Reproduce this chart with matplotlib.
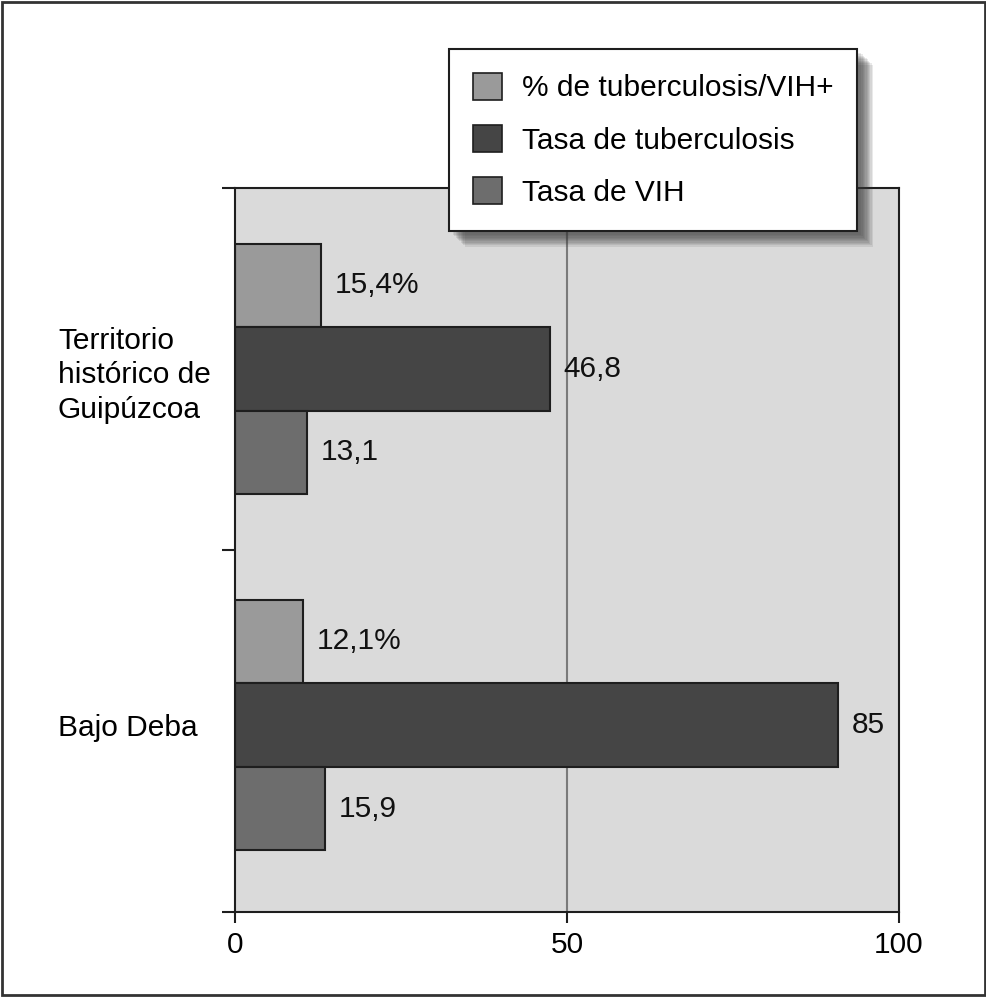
import numpy as np
import matplotlib
matplotlib.use('Agg')
import matplotlib.pyplot as plt
from matplotlib.patches import Rectangle, Patch

plt.rcParams['font.family'] = ['Liberation Sans', 'DejaVu Sans']

# data (bar lengths as drawn, labels as printed)
categories = ['Territorio\nhistórico de\nGuipúzcoa', 'Bajo Deba']
series_names = ['% de tuberculosis/VIH+', 'Tasa de tuberculosis', 'Tasa de VIH']
pct_tb_vih = [12.9, 10.2]
tasa_tb = [47.4, 90.8]
tasa_vih = [10.8, 13.6]
pct_tb_vih_labels = ['15,4%', '12,1%']
tasa_tb_labels = ['46,8', '85']
tasa_vih_labels = ['13,1', '15,9']
x_ticks = [0, 50, 100]

colors = ['#9a9a9a', '#454545', '#6d6d6d']
bg = '#dadada'
fs = 21.5

fig = plt.figure(figsize=(9.87, 9.97), dpi=100)
ax = fig.add_axes([235 / 987, 1 - 912 / 997, (899 - 235) / 987, (912 - 188) / 997])
ax.set_facecolor(bg)

y = np.arange(len(categories))
h = 0.2346
series = [pct_tb_vih, tasa_tb, tasa_vih]
labels = [pct_tb_vih_labels, tasa_tb_labels, tasa_vih_labels]
offsets = [-h, 0, h]

ax.axvline(50, color='#7a7a7a', lw=1.5, zorder=1)

for vals, labs, off, c in zip(series, labels, offsets, colors):
    ax.barh(y + off, vals, height=h, color=c, edgecolor='#1e1e1e', linewidth=1.5, zorder=2)
    for yi, v, lab in zip(y, vals, labs):
        ax.annotate(lab, (v, yi + off), xytext=(10, 0), textcoords='offset points',
                    ha='left', va='center', fontsize=fs, color='#111111')

ax.set_xlim(0, 100)
ax.set_ylim(1.525, -0.508)
ax.set_xticks(x_ticks)
ax.set_xticklabels([str(t) for t in x_ticks], fontsize=fs)
ax.tick_params(axis='x', length=8, width=1.5, pad=6, color='#1e1e1e')

ax.set_yticks(y)
ax.set_yticklabels(categories, fontsize=fs, ha='left', linespacing=1.3)
ax.tick_params(axis='y', which='major', length=0, pad=127.5)
ax.set_yticks([-0.508, 0.508, 1.525], minor=True)
ax.tick_params(axis='y', which='minor', length=9.5, width=1.5, color='#1e1e1e')

for s in ax.spines.values():
    s.set_linewidth(1.5)
    s.set_color('#1e1e1e')

handles = [Patch(facecolor=c, edgecolor='#1e1e1e', linewidth=1.2) for c in colors]
leg = fig.legend(handles, series_names, loc='upper left', bbox_to_anchor=(449 / 987, 1 - 49 / 997),
                 bbox_transform=fig.transFigure, borderaxespad=0, fontsize=fs,
                 frameon=True, fancybox=False, framealpha=1, edgecolor='#1e1e1e',
                 handlelength=0.97, handleheight=1.0, handletextpad=0.67,
                 labelspacing=0.76, borderpad=0.8)
leg.get_frame().set_linewidth(1.5)
leg.set_zorder(10)

# soft shadow behind the legend box, built from its drawn size
fig.canvas.draw()
bb = leg.get_window_extent().transformed(fig.transFigure.inverted())
for k in range(10):
    d = 4 + 1.3 * k
    fig.patches.append(Rectangle((bb.x0 + d / 987, bb.y0 - d / 997), bb.width, bb.height,
                                 transform=fig.transFigure, facecolor='#3a3a3a',
                                 alpha=0.11, edgecolor='none', zorder=2))

fig.patches.append(Rectangle((0.002, 0.002), 0.996, 0.996, transform=fig.transFigure,
                             facecolor='none', edgecolor='#333333', linewidth=2, zorder=20))

fig.savefig('out.png', dpi=100)
